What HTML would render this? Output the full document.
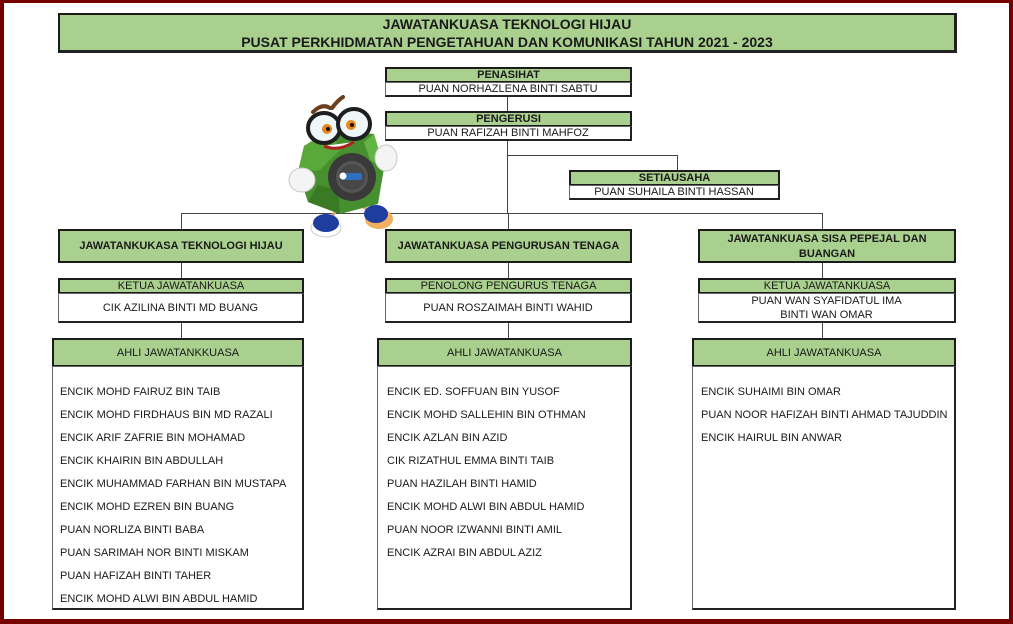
<!DOCTYPE html>
<html>
<head>
<meta charset="utf-8">
<style>
*{margin:0;padding:0;box-sizing:border-box;}
html,body{width:1013px;height:624px;overflow:hidden;}
body{background:#760000;position:relative;font-family:"Liberation Sans",Arial,sans-serif;color:#1a1a1a;}
#page{position:absolute;left:4px;top:3px;width:1005px;height:616px;background:#fff;}
.a{position:absolute;}
.g{position:absolute;background:#a9d08e;border:2px solid #1b1b1b;text-align:center;font-size:11px;white-space:nowrap;}
.w{position:absolute;background:#fff;border:1px solid #666;border-right:2px solid #222;border-bottom:2px solid #222;text-align:center;font-size:11px;white-space:nowrap;}
.b{font-weight:bold;}
.h{position:absolute;height:1px;background:#444;}
.v{position:absolute;width:1px;background:#444;}
.li{position:absolute;font-size:11px;white-space:nowrap;line-height:14px;}
</style>
</head>
<body>
<div id="page"></div>

<!-- Title -->
<div class="g b" style="left:58px;top:13px;width:899px;height:40px;font-size:14px;line-height:18px;padding-top:0px;border-right:3px solid #222;border-bottom:3px solid #222;">JAWATANKUASA TEKNOLOGI HIJAU<br>PUSAT PERKHIDMATAN PENGETAHUAN DAN KOMUNIKASI TAHUN 2021 - 2023</div>

<!-- connectors -->
<div class="v" style="left:507px;top:97px;height:14px;"></div>
<div class="v" style="left:507px;top:141px;height:73px;"></div>
<div class="h" style="left:507px;top:155px;width:171px;"></div>
<div class="v" style="left:677px;top:155px;height:15px;"></div>
<div class="h" style="left:181px;top:213px;width:641px;"></div>
<div class="v" style="left:181px;top:213px;height:16px;"></div>
<div class="v" style="left:508px;top:213px;height:16px;"></div>
<div class="v" style="left:822px;top:213px;height:16px;"></div>
<div class="v" style="left:181px;top:263px;height:15px;"></div>
<div class="v" style="left:508px;top:263px;height:15px;"></div>
<div class="v" style="left:822px;top:263px;height:15px;"></div>
<div class="v" style="left:181px;top:323px;height:15px;"></div>
<div class="v" style="left:508px;top:323px;height:15px;"></div>
<div class="v" style="left:822px;top:323px;height:15px;"></div>

<!-- PENASIHAT -->
<div class="g b" style="left:385px;top:67px;width:247px;height:16px;line-height:12px;">PENASIHAT</div>
<div class="w" style="left:385px;top:82px;width:247px;height:15px;line-height:12px;">PUAN NORHAZLENA BINTI SABTU</div>

<!-- PENGERUSI -->
<div class="g b" style="left:385px;top:111px;width:247px;height:16px;line-height:12px;">PENGERUSI</div>
<div class="w" style="left:385px;top:126px;width:247px;height:15px;line-height:12px;">PUAN RAFIZAH BINTI MAHFOZ</div>

<!-- SETIAUSAHA -->
<div class="g b" style="left:569px;top:170px;width:211px;height:16px;line-height:12px;">SETIAUSAHA</div>
<div class="w" style="left:569px;top:185px;width:211px;height:15px;line-height:12px;">PUAN SUHAILA BINTI HASSAN</div>

<!-- Committee boxes -->
<div class="g b" style="left:58px;top:229px;width:246px;height:34px;line-height:30px;">JAWATANKUKASA TEKNOLOGI HIJAU</div>
<div class="g b" style="left:385px;top:229px;width:247px;height:34px;line-height:30px;">JAWATANKUASA PENGURUSAN TENAGA</div>
<div class="g b" style="left:698px;top:229px;width:258px;height:34px;line-height:15px;padding-top:1px;">JAWATANKUASA SISA PEPEJAL DAN<br>BUANGAN</div>

<!-- Ketua boxes -->
<div class="g" style="left:58px;top:278px;width:246px;height:16px;line-height:12px;">KETUA JAWATANKUASA</div>
<div class="w" style="left:58px;top:293px;width:246px;height:30px;line-height:28px;">CIK AZILINA BINTI MD BUANG</div>

<div class="g" style="left:385px;top:278px;width:247px;height:16px;line-height:12px;">PENOLONG PENGURUS TENAGA</div>
<div class="w" style="left:385px;top:293px;width:247px;height:30px;line-height:28px;">PUAN ROSZAIMAH BINTI WAHID</div>

<div class="g" style="left:698px;top:278px;width:258px;height:16px;line-height:12px;">KETUA JAWATANKUASA</div>
<div class="w" style="left:698px;top:293px;width:258px;height:30px;line-height:14px;">PUAN WAN SYAFIDATUL IMA<br>BINTI WAN OMAR</div>

<!-- Ahli boxes -->
<div class="g" style="left:52px;top:338px;width:252px;height:29px;line-height:26px;">AHLI JAWATANKKUASA</div>
<div class="w" style="left:52px;top:366px;width:252px;height:244px;"></div>

<div class="g" style="left:377px;top:338px;width:255px;height:29px;line-height:26px;">AHLI JAWATANKUASA</div>
<div class="w" style="left:377px;top:366px;width:255px;height:244px;"></div>

<div class="g" style="left:692px;top:338px;width:264px;height:29px;line-height:26px;">AHLI JAWATANKUASA</div>
<div class="w" style="left:692px;top:366px;width:264px;height:244px;"></div>

<!-- Left list -->
<div class="li" style="left:60px;top:385px;">ENCIK MOHD FAIRUZ BIN TAIB</div>
<div class="li" style="left:60px;top:408px;">ENCIK MOHD FIRDHAUS BIN MD RAZALI</div>
<div class="li" style="left:60px;top:431px;">ENCIK ARIF ZAFRIE BIN MOHAMAD</div>
<div class="li" style="left:60px;top:454px;">ENCIK KHAIRIN BIN ABDULLAH</div>
<div class="li" style="left:60px;top:477px;">ENCIK MUHAMMAD FARHAN BIN MUSTAPA</div>
<div class="li" style="left:60px;top:500px;">ENCIK MOHD EZREN BIN BUANG</div>
<div class="li" style="left:60px;top:523px;">PUAN NORLIZA BINTI BABA</div>
<div class="li" style="left:60px;top:546px;">PUAN SARIMAH NOR BINTI MISKAM</div>
<div class="li" style="left:60px;top:569px;">PUAN HAFIZAH BINTI TAHER</div>
<div class="li" style="left:60px;top:592px;">ENCIK MOHD ALWI BIN ABDUL HAMID</div>

<!-- Middle list -->
<div class="li" style="left:387px;top:385px;">ENCIK ED. SOFFUAN BIN YUSOF</div>
<div class="li" style="left:387px;top:408px;">ENCIK MOHD SALLEHIN BIN OTHMAN</div>
<div class="li" style="left:387px;top:431px;">ENCIK AZLAN BIN AZID</div>
<div class="li" style="left:387px;top:454px;">CIK RIZATHUL EMMA BINTI TAIB</div>
<div class="li" style="left:387px;top:477px;">PUAN HAZILAH BINTI HAMID</div>
<div class="li" style="left:387px;top:500px;">ENCIK MOHD ALWI BIN ABDUL HAMID</div>
<div class="li" style="left:387px;top:523px;">PUAN NOOR IZWANNI BINTI AMIL</div>
<div class="li" style="left:387px;top:546px;">ENCIK AZRAI BIN ABDUL AZIZ</div>

<!-- Right list -->
<div class="li" style="left:701px;top:385px;">ENCIK SUHAIMI BIN OMAR</div>
<div class="li" style="left:701px;top:408px;">PUAN NOOR HAFIZAH BINTI AHMAD TAJUDDIN</div>
<div class="li" style="left:701px;top:431px;">ENCIK HAIRUL BIN ANWAR</div>

<!-- Mascot -->
<svg class="a" style="left:280px;top:90px;" width="130" height="150" viewBox="0 0 130 150">
  <!-- legs -->
  <line x1="58" y1="118" x2="48" y2="132" stroke="#d9a77a" stroke-width="3"/>
  <line x1="82" y1="116" x2="94" y2="124" stroke="#d9a77a" stroke-width="3"/>
  <!-- body -->
  <polygon points="24,56 50,40 94,44 104,78 98,114 60,124 28,112 18,82" fill="#47902f"/>
  <polygon points="24,56 50,40 60,60 40,80 18,82" fill="#58a83a"/>
  <polygon points="28,112 60,124 58,100 38,95" fill="#3a7a25"/>
  <polygon points="94,44 104,78 90,70 84,52" fill="#62b443"/>
  <!-- emblem -->
  <circle cx="72" cy="87" r="24" fill="#3a3a3a"/>
  <circle cx="72" cy="87" r="16" fill="#555"/>
  <circle cx="72" cy="87" r="13" fill="#474747"/>
  <rect x="62" y="83" width="20" height="7" rx="2" fill="#2f6fc0"/>
  <circle cx="63" cy="86" r="3.5" fill="#fff"/>
  <!-- mouth -->
  <path d="M44 56 Q58 62 74 52" stroke="#b02020" stroke-width="3" fill="#fff"/>
  <!-- eyebrows -->
  <path d="M33 22 Q42 13 50 18" stroke="#6b3e1e" stroke-width="4" fill="none" stroke-linecap="round"/>
  <path d="M52 18 Q58 10 63 7" stroke="#6b3e1e" stroke-width="4" fill="none" stroke-linecap="round"/>
  <!-- glasses -->
  <ellipse cx="44" cy="38" rx="16" ry="15" fill="#eef6f8" stroke="#1e1e1e" stroke-width="4"/>
  <ellipse cx="74" cy="34" rx="16" ry="15" fill="#eef6f8" stroke="#1e1e1e" stroke-width="4"/>
  <line x1="59" y1="35" x2="60" y2="35" stroke="#1e1e1e" stroke-width="4"/>
  <circle cx="47" cy="39" r="5" fill="#e8861a"/>
  <circle cx="48" cy="39" r="2" fill="#111"/>
  <circle cx="71" cy="35" r="5" fill="#e8861a"/>
  <circle cx="72" cy="35" r="2" fill="#111"/>
  <!-- hands -->
  <ellipse cx="22" cy="90" rx="13" ry="12" fill="#f4f4f4" stroke="#c8c8c8" stroke-width="1"/>
  <ellipse cx="106" cy="68" rx="11" ry="13" fill="#f4f4f4" stroke="#c8c8c8" stroke-width="1"/>
  <!-- shoes -->
  <ellipse cx="46" cy="138" rx="15" ry="9" fill="#fff" stroke="#ccc"/>
  <ellipse cx="46" cy="133" rx="13" ry="9" fill="#1f3d9e"/>
  <ellipse cx="99" cy="129" rx="14" ry="10" fill="#f0b060"/>
  <ellipse cx="96" cy="124" rx="12" ry="9" fill="#1f3d9e"/>
</svg>

</body>
</html>
